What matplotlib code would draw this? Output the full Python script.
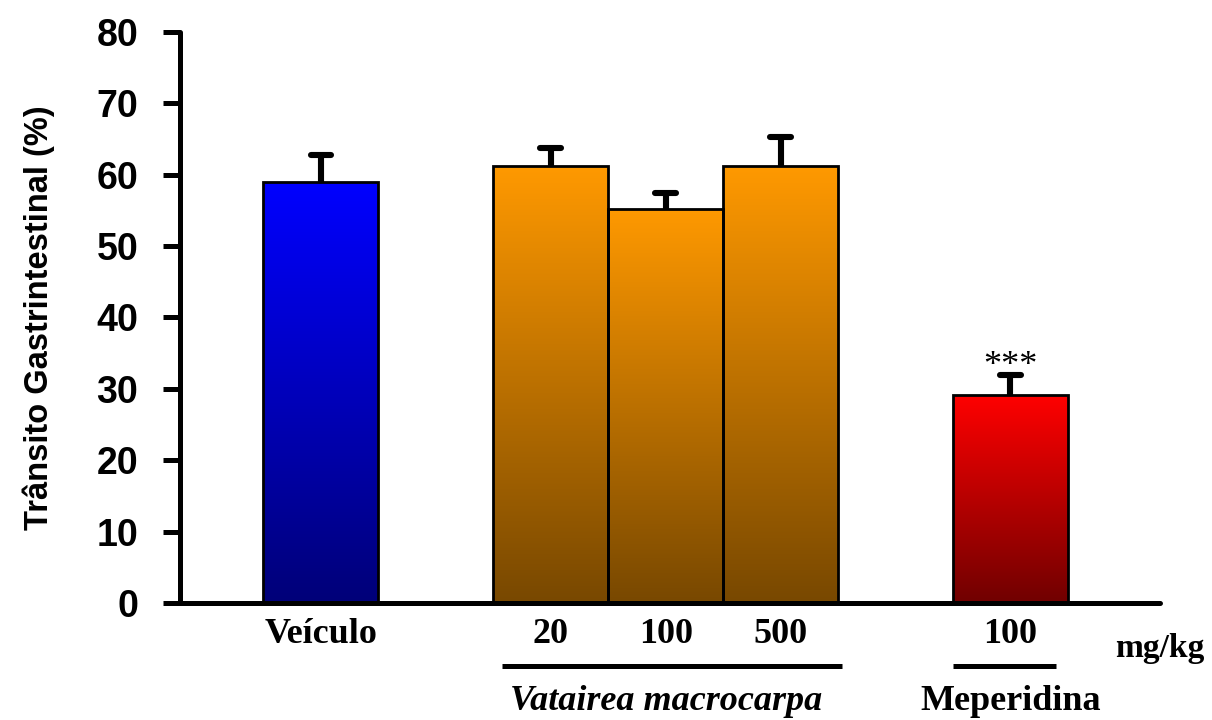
import numpy as np
import matplotlib.pyplot as plt
from matplotlib.colors import LinearSegmentedColormap
from matplotlib.patches import Rectangle

# dados
labels = ['Veículo', '20', '100', '500', '100']
positions = [0, 2, 3, 4, 6]
values = [59.0, 61.2, 55.2, 61.2, 29.2]
errors = [3.8, 2.6, 2.2, 4.1, 2.8]
top_colors = ['#0000ff', '#ff9900', '#ff9900', '#ff9900', '#ff0000']
bottom_colors = ['#000078', '#784800', '#784800', '#784800', '#700000']
yticks = [0, 10, 20, 30, 40, 50, 60, 70, 80]

fig = plt.figure(figsize=(12.12, 7.2), dpi=100, facecolor='white')
ax = fig.add_axes([0.1485, 0.1625, 0.8085, 0.7931])
ax.set_xlim(-1.226, 7.3)
ax.set_ylim(0, 80)

width = 1.0
for x, v, c1, c2 in zip(positions, values, top_colors, bottom_colors):
    cmap = LinearSegmentedColormap.from_list('g', [c2, c1])
    grad = np.linspace(0, 1, 256).reshape(-1, 1)
    im = ax.imshow(grad, cmap=cmap, origin='lower', aspect='auto',
                   extent=(x - width / 2, x + width / 2, 0, v), zorder=2)
    rect = Rectangle((x - width / 2, 0), width, v, facecolor='none',
                     edgecolor='black', linewidth=2.0, zorder=3)
    ax.add_patch(rect)
    im.set_clip_path(rect)

# barras de erro (só para cima)
tops = [v + e for v, e in zip(values, errors)]
vl = ax.vlines(positions, values, tops, colors='black', linewidth=4.4, zorder=4)
hl = ax.hlines(tops, [p - 0.09 for p in positions], [p + 0.09 for p in positions],
               colors='black', linewidth=4.4, zorder=4)
hl.set_capstyle('round')
vl.set_capstyle('butt')

ax.text(positions[4], tops[4] - 1.2, '***', ha='center', va='bottom',
        fontsize=26, family='Liberation Serif', zorder=5)

ax.set_yticks(yticks)
ax.set_yticklabels([str(t) for t in yticks], fontsize=27, fontweight='bold',
                   family='Liberation Sans')
ax.set_xticks([])
ax.tick_params(axis='y', direction='out', length=12, width=3.6, pad=18)
for s in ['top', 'right']:
    ax.spines[s].set_visible(False)
for s in ['left', 'bottom']:
    ax.spines[s].set_linewidth(3.6)
    ax.spines[s].set_capstyle('round')
ax.spines['bottom'].set_bounds(-1.226, 7.3)

ax.set_ylabel('Trânsito Gastrintestinal (%)', fontsize=23.5, fontweight='bold',
              family='Liberation Sans')
ax.yaxis.set_label_coords(-0.128, 0.5)

# rótulos das categorias
for x, lab in zip(positions, labels):
    ax.text(x, -4.4, lab, ha='center', va='center', fontsize=26,
            fontweight='bold', family='Liberation Serif', clip_on=False)
ax.text(6.91, -6.4, 'mg/kg', ha='left', va='center', fontsize=24,
        fontweight='bold', family='Liberation Serif', clip_on=False)

# linhas dos grupos
ax.plot([1.574, 4.53], [-8.8, -8.8], color='black', linewidth=3.6,
        clip_on=False, solid_capstyle='butt')
ax.plot([5.496, 6.40], [-8.8, -8.8], color='black', linewidth=3.6,
        clip_on=False, solid_capstyle='butt')
ax.text(3.0, -13.8, 'Vatairea macrocarpa', ha='center', va='center',
        fontsize=26, style='italic', fontweight='bold',
        family='Liberation Serif', clip_on=False)
ax.text(6.0, -13.8, 'Meperidina', ha='center', va='center', fontsize=26,
        fontweight='bold', family='Liberation Serif', clip_on=False)

plt.savefig('out.png', dpi=100, facecolor=fig.get_facecolor())
